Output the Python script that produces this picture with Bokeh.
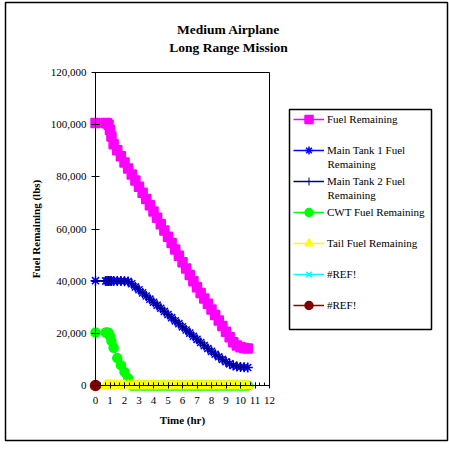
from bokeh.plotting import figure
from bokeh.models import (Range1d, FixedTicker, NumeralTickFormatter, Label,
                          BoxAnnotation, Legend, LegendItem)
from bokeh.embed import file_html
from bokeh.resources import INLINE

# ---------------- data ----------------
TIME_HR = [0, 0.7, 0.8, 0.9, 1.0, 1.1, 1.25, 1.5, 1.75, 2.0, 2.25, 2.5, 2.75,
           3.0, 3.25, 3.5, 3.75, 4.0, 4.25, 4.5, 4.75, 5.0, 5.25, 5.5, 5.75,
           6.0, 6.25, 6.5, 6.75, 7.0, 7.25, 7.5, 7.75, 8.0, 8.25, 8.5, 8.75,
           9.0, 9.25, 9.5, 9.75, 10.0, 10.25, 10.5]

FUEL_REMAINING = [100600, 100600, 100500, 100000, 98000, 95500, 92500, 90200,
                  87900, 85500, 83200, 80900, 78600, 76200, 73900, 71500,
                  69100, 66700, 64300, 61800, 59400, 57000, 54600, 52100,
                  49700, 47300, 44900, 42400, 40000, 37650, 35500, 33400,
                  31300, 29150, 27000, 24900, 22800, 20650, 18500, 16600,
                  15300, 14700, 14400, 14200]

MAIN_TANK_1 = [40200, 40100, 40100, 40100, 40100, 40100, 40100, 40100, 40100,
               40000, 39900, 39000, 37800, 36700, 35500, 34300, 33100, 31900,
               30800, 29600, 28400, 27200, 26000, 24800, 23700, 22500, 21300,
               20100, 18900, 17700, 16500, 15300, 14200, 13100, 12000, 11000,
               10000, 9100, 8300, 7700, 7300, 7100, 7000, 6900]

MAIN_TANK_2 = [40200, 40100, 40100, 40100, 40100, 40100, 40100, 40100, 40100,
               40000, 39900, 39000, 37800, 36700, 35500, 34300, 33100, 31900,
               30800, 29600, 28400, 27200, 26000, 24800, 23700, 22500, 21300,
               20100, 18900, 17700, 16500, 15300, 14200, 13100, 12000, 11000,
               10000, 9100, 8300, 7700, 7300, 7100, 7000, 6900]

CWT_FUEL = [20300, 20300, 20300, 20200, 19000, 17000, 14500, 10500, 7800, 5200,
            2800, 0, 0, 0, 0, 0, 0, 0, 0, 0, 0, 0, 0, 0, 0, 0, 0, 0, 0, 0, 0,
            0, 0, 0, 0, 0, 0, 0, 0, 0, 0, 0, 0, 0]

TAIL_FUEL = [0, 0, 0, 0, 0, 0, 0, 0, 0, 0, 0, 0, 0, 0, 0, 0, 0, 0, 0, 0, 0, 0,
             0, 0, 0, 0, 0, 0, 0, 0, 0, 0, 0, 0, 0, 0, 0, 0, 0, 0, 0, 0, 0, 0]

REF_TIME = [0]
REF_1 = [0]
REF_2 = [0]

X_TICKS = [0, 1, 2, 3, 4, 5, 6, 7, 8, 9, 10, 11, 12]
X_MINOR = [i / 3 for i in range(0, 37)]
Y_TICKS = [0, 20000, 40000, 60000, 80000, 100000, 120000]

# ---------------- layout (pixels) ----------------
W, H = 449, 455
X0_PX, X12_PX = 95, 269        # pixel of t=0 and t=12
Y0_PX, YTOP_PX = 385, 72       # pixel of 0 and 120,000 lbs
PX_PER_HR = (X12_PX - X0_PX) / 12.0
LBS_PER_PX = 120000.0 / (Y0_PX - YTOP_PX)


def dx(px):
    return (px - X0_PX) / PX_PER_HR


def dy(py):
    return (Y0_PX - py) * LBS_PER_PX


FONT = "Liberation Serif"

p = figure(width=W, height=H, title=None,
           x_range=Range1d(dx(0), dx(W)), y_range=Range1d(dy(H), dy(0)),
           output_backend="svg", toolbar_location=None,
           min_border_left=0, min_border_right=0,
           min_border_top=0, min_border_bottom=0)
p.outline_line_color = None
p.xgrid.visible = False
p.ygrid.visible = False
p.background_fill_color = "white"
p.border_fill_color = "white"

# axes (placed at the data origin)
xa = p.xaxis[0]
ya = p.yaxis[0]
xa.fixed_location = 0
ya.fixed_location = 0
xa.bounds = (0, 12)
ya.bounds = (0, 120000)
xa.ticker = FixedTicker(ticks=X_TICKS, minor_ticks=X_MINOR)
ya.ticker = FixedTicker(ticks=Y_TICKS, minor_ticks=[])
ya.formatter = NumeralTickFormatter(format="0,0")
for ax in (xa, ya):
    ax.axis_line_color = "black"
    ax.axis_line_width = 1
    ax.major_tick_line_color = "black"
    ax.minor_tick_line_color = "black"
    ax.major_label_text_font = FONT
    ax.major_label_text_font_size = "11px"
    ax.major_label_text_color = "black"
    ax.axis_label_text_font = FONT
    ax.axis_label_text_font_size = "11px"
    ax.axis_label_text_font_style = "bold"
    ax.axis_label_text_color = "black"
xa.major_tick_in = 3
xa.major_tick_out = 3
xa.minor_tick_in = 3
xa.minor_tick_out = 0
xa.major_label_standoff = 8
xa.axis_label = "Time (hr)"
xa.axis_label_standoff = 7
ya.major_tick_in = 4
ya.major_tick_out = 4
ya.minor_tick_in = 0
ya.minor_tick_out = 0
ya.major_label_standoff = 5
ya.axis_label = "Fuel Remaining (lbs)"
ya.axis_label_standoff = 6

# outer chart border
p.add_layout(BoxAnnotation(left=dx(5), right=dx(447), top=dy(2),
                           bottom=dy(440), fill_alpha=0, line_color="black",
                           line_alpha=1, line_width=1.5, level="underlay"))

# plot area box (top and right edges)
p.add_layout(BoxAnnotation(left=0, right=12, bottom=0, top=120000,
                           fill_alpha=0, line_color="black", line_alpha=1,
                           line_width=1, level="underlay"))

# series
series = [
    ("Fuel Remaining", TIME_HR, FUEL_REMAINING, "#FF00FF", "square", 9, 1.5),
    ("Main Tank 1 Fuel", TIME_HR, MAIN_TANK_1, "#0000FF", "asterisk", 10, 1.5),
    ("Main Tank 2 Fuel", TIME_HR, MAIN_TANK_2, "#000080", "cross", 9, 1.0),
    ("CWT Fuel Remaining", TIME_HR, CWT_FUEL, "#00FF00", "circle", 9, 1.5),
    ("Tail Fuel Remaining", TIME_HR, TAIL_FUEL, "#FFFF00", "triangle", 10, 1.5),
    ("#REF!", REF_TIME, REF_1, "#00FFFF", "x", 9, 1.5),
    ("#REF!", REF_TIME, REF_2, "#800000", "circle", 10, 1.5),
]
items = []
for label, xs, ys, col, mk, sz, lw in series:
    lr = p.line(xs, ys, line_color=col, line_width=1.5)
    sr = p.scatter(xs, ys, marker=mk, size=sz, fill_color=col,
                   line_color=col, line_width=lw)
    items.append(LegendItem(label=label, renderers=[lr, sr]))

# legend frame
p.add_layout(BoxAnnotation(left=dx(289), right=dx(431), top=dy(109),
                           bottom=dy(329), fill_color="white", fill_alpha=1,
                           line_color="black", line_alpha=1, line_width=1.5))

ROW0, ROW_H, ROW_SP, N_ROWS = 119, 20, 11, 7
leg_top = ROW0 - ROW_H / 2
leg_bottom = leg_top + N_ROWS * ROW_H + (N_ROWS - 1) * ROW_SP
leg = Legend(items=items, location=(293, H - leg_bottom),
             padding=0, spacing=ROW_SP, glyph_width=31, glyph_height=ROW_H,
             label_height=ROW_H, label_standoff=3,
             label_text_font=FONT, label_text_font_size="11px",
             label_text_color="black", background_fill_alpha=0,
             border_line_color=None, margin=0)
p.add_layout(leg, "center")

for ty in (163, 194):
    p.add_layout(Label(x=dx(327), y=dy(ty), text="Remaining",
                       text_baseline="middle", text_align="left",
                       text_font=FONT, text_font_size="11px",
                       text_color="black"))

# title
p.add_layout(Label(x=dx(228), y=dy(29), text="Medium Airplane",
                   text_align="center", text_baseline="middle",
                   text_font=FONT, text_font_size="13.5px",
                   text_font_style="bold", text_color="black"))
p.add_layout(Label(x=dx(228), y=dy(47), text="Long Range Mission",
                   text_align="center", text_baseline="middle",
                   text_font=FONT, text_font_size="13.5px",
                   text_font_style="bold", text_color="black"))

open("out.html", "w").write(file_html(p, INLINE))
